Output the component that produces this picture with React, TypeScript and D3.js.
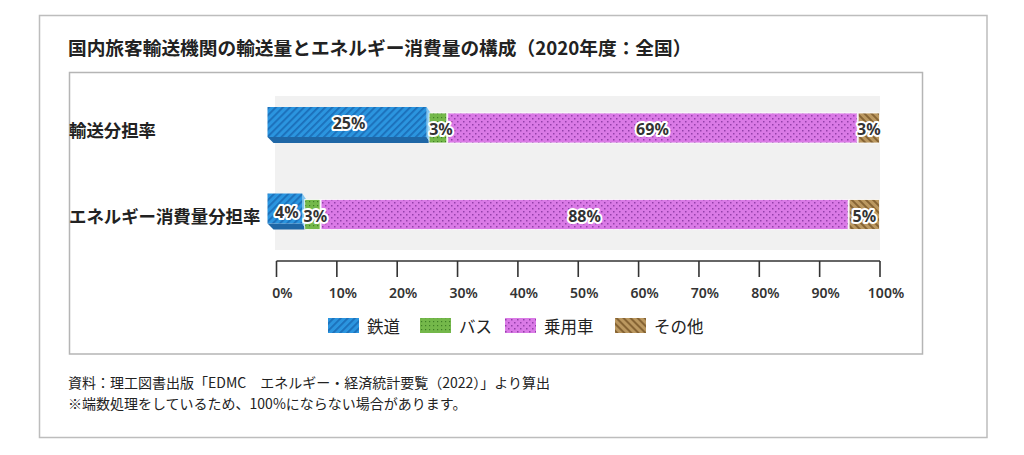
import React from "react";
import * as d3 from "d3";

const title = "国内旅客輸送機関の輸送量とエネルギー消費量の構成（2020年度：全国）";
const categories = ["輸送分担率", "エネルギー消費量分担率"];
const seriesNames = ["鉄道", "バス", "乗用車", "その他"];
const seriesKeys = ["rail", "bus", "car", "other"];
const rail = [25.2, 4.6];
const bus = [3.1, 2.7];
const car = [68.0, 87.5];
const other = [3.7, 5.2];
const railLabels = ["25%", "4%"];
const busLabels = ["3%", "3%"];
const carLabels = ["69%", "88%"];
const otherLabels = ["3%", "5%"];
const tickValues = [0, 10, 20, 30, 40, 50, 60, 70, 80, 90, 100];
const tickLabels = ["0%", "10%", "20%", "30%", "40%", "50%", "60%", "70%", "80%", "90%", "100%"];
const notes = [
  "資料：理工図書出版「EDMC　エネルギー・経済統計要覧（2022）」より算出",
  "※端数処理をしているため、100%にならない場合があります。",
];

const JP = "'Noto Sans CJK JP', 'Noto Sans', sans-serif";
const fills = ["url(#pRail)", "url(#pBus)", "url(#pCar)", "url(#pOther)"];

export default function App() {
  const x = d3.scaleLinear().domain([0, 100]).range([276.5, 880]);
  const y = d3.scalePoint<string>().domain(categories).range([128, 214.5]);
  const barH = 30;

  const table = categories.map((c, i) => ({
    cat: c,
    rail: rail[i],
    bus: bus[i],
    car: car[i],
    other: other[i],
  }));
  const labelSets = [railLabels, busLabels, carLabels, otherLabels];
  const stacked = d3.stack<any>().keys(seriesKeys)(table);

  const labelStyle: React.CSSProperties = {
    paintOrder: "stroke",
  };

  return (
    <svg width={1024} height={455} style={{ position: "absolute", left: 0, top: 0, background: "#fff" }}>
      <defs>
        <pattern id="pRail" width={5} height={5} patternUnits="userSpaceOnUse" patternTransform="rotate(45)">
          <rect width={5} height={5} fill="#2b95df" />
          <rect width={1.8} height={5} fill="#1b6fb9" />
        </pattern>
        <pattern id="pBus" width={4} height={4} patternUnits="userSpaceOnUse">
          <rect width={4} height={4} fill="#74b84a" />
          <rect x={1} y={1} width={1.2} height={1.2} fill="#3f7f25" />
        </pattern>
        <pattern id="pCar" width={6} height={6} patternUnits="userSpaceOnUse">
          <rect width={6} height={6} fill="#da7ae6" />
          <rect x={1} y={1} width={1.5} height={1.5} fill="#9440aa" />
          <rect x={4} y={4} width={1.5} height={1.5} fill="#9440aa" />
        </pattern>
        <pattern id="pOther" width={5} height={5} patternUnits="userSpaceOnUse" patternTransform="rotate(-45)">
          <rect width={5} height={5} fill="#bb9860" />
          <rect width={2} height={5} fill="#866434" />
        </pattern>
      </defs>

      {/* outer frame */}
      <rect x={39.5} y={15.5} width={947.5} height={422} fill="none" stroke="#bdbdbd" strokeWidth={1.5} />
      {/* title */}
      <text x={68} y={55} fontFamily={JP} fontSize={18.7} fontWeight={600} fill="#222">
        {title}
      </text>
      {/* inner frame */}
      <rect x={69.5} y={72.5} width={853} height={281.5} fill="none" stroke="#b5b5b5" strokeWidth={1.5} />

      {/* plot background */}
      <rect x={x(0) - 1.5} y={96} width={x(100) - x(0) + 1.5} height={154} fill="#f1f1f1" />

      {/* category labels */}
      {categories.map((c) => (
        <text key={c} x={69} y={(y(c) as number) + 1} dominantBaseline="central" fontFamily={JP} fontSize={17.4} fontWeight={600} fill="#222">
          {c}
        </text>
      ))}

      {/* bars */}
      {stacked.map((s, si) =>
        s.map((d, ci) => {
          const cy = y(categories[ci]) as number;
          const x0 = x(d[0]);
          const x1 = x(d[1]);
          if (si === 0) {
            const fx0 = x0 - 9;
            const fx1 = x1 - 2;
            const fy0 = cy - barH / 2 - 6;
            const fy1 = cy + barH / 2 - 6;
            return (
              <g key={`${si}-${ci}`}>
                <polygon
                  points={`${fx0},${fy1} ${fx1},${fy1} ${fx1 + 4},${fy1 + 6} ${fx0 + 6},${fy1 + 6}`}
                  fill="#1f67a6"
                />
                <polygon
                  points={`${fx1},${fy0} ${fx1 + 4},${fy0 + 6} ${fx1 + 4},${fy1 + 6} ${fx1},${fy1}`}
                  fill="#7fc6f2"
                />
                <rect x={fx0} y={fy0} width={fx1 - fx0} height={barH} fill={fills[si]} />
              </g>
            );
          }
          return (
            <rect
              key={`${si}-${ci}`}
              x={x0 + 0.5}
              y={cy - barH / 2}
              width={Math.max(0, x1 - x0 - 1)}
              height={barH}
              fill={fills[si]}
              stroke="#fff"
              strokeWidth={0.8}
            />
          );
        })
      )}

      {/* segment labels */}
      {stacked.map((s, si) =>
        s.map((d, ci) => {
          const cy = y(categories[ci]) as number;
          let lx = (x(d[0]) + x(d[1])) / 2;
          let ly = cy + 1;
          if (si === 0) {
            lx = (x(d[0]) - 9 + x(d[1]) - 2) / 2 + 2;
            ly = ci === 0 ? cy - 5 : cy - 3;
          }
          if (si === 1) lx += 3;
          return (
            <text
              key={`l-${si}-${ci}`}
              x={lx}
              y={ly}
              textAnchor="middle"
              dominantBaseline="central"
              fontFamily="'Noto Sans', sans-serif"
              fontSize={16}
              fontWeight={700}
              fill="#333"
              stroke="#fff"
              strokeWidth={4}
              strokeLinejoin="round"
              style={labelStyle}
            >
              {labelSets[si][ci]}
            </text>
          );
        })
      )}

      {/* axis */}
      <g>
        <line x1={x(0)} x2={x(100)} y1={261} y2={261} stroke="#333" strokeWidth={1.6} />
        {tickValues.map((t, i) => (
          <g key={t}>
            <line x1={x(t)} x2={x(t)} y1={261} y2={277} stroke="#333" strokeWidth={1.6} />
            <text
              x={x(t) + 6}
              y={292}
              textAnchor="middle"
              dominantBaseline="central"
              fontFamily="'Noto Sans', sans-serif"
              fontSize={14}
              fontWeight={600}
              fill="#333"
            >
              {tickLabels[i]}
            </text>
          </g>
        ))}
      </g>

      {/* legend */}
      {(() => {
        const lx = [328, 420, 505, 615];
        return seriesNames.map((n, i) => (
          <g key={n}>
            <rect x={lx[i]} y={318} width={31} height={15} fill={fills[i]} />
            <text x={lx[i] + 39} y={326} dominantBaseline="central" fontFamily={JP} fontSize={16.5} fill="#222">
              {n}
            </text>
          </g>
        ));
      })()}

      {/* notes */}
      {notes.map((n, i) => (
        <text key={i} x={68} y={388 + i * 21} fontFamily={JP} fontSize={14} fill="#222">
          {n}
        </text>
      ))}
    </svg>
  );
}
